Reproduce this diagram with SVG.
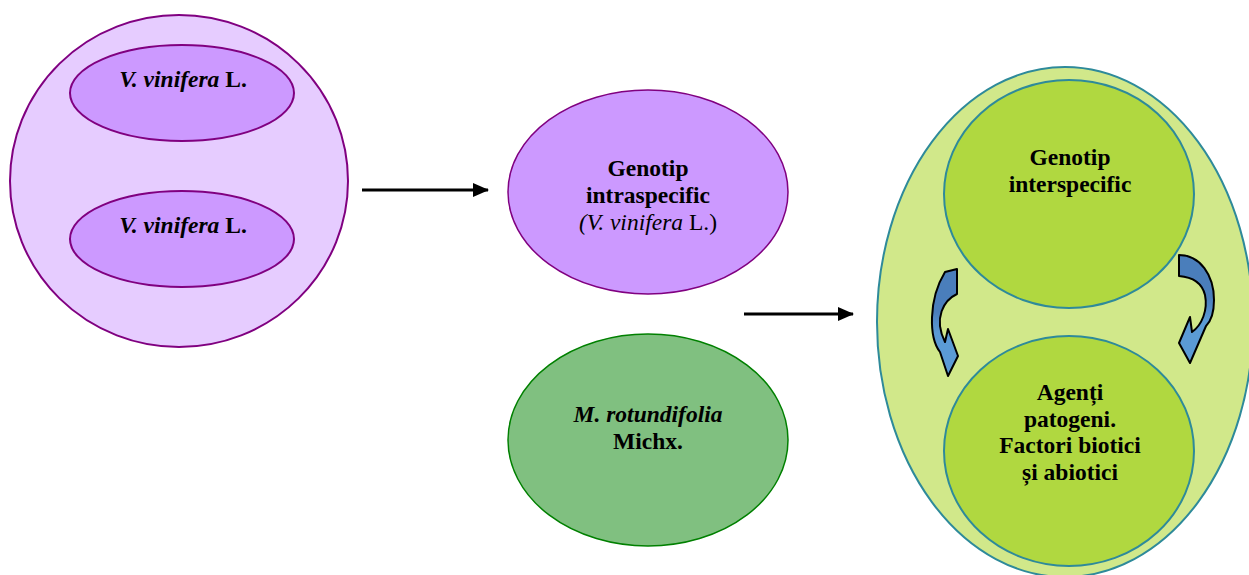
<svg xmlns="http://www.w3.org/2000/svg" width="1249" height="575" viewBox="0 0 1249 575">
<style>
.t{font-family:"Liberation Serif","Times New Roman",serif;font-size:23.5px;font-weight:bold;fill:#000;text-anchor:middle}
.it{font-style:italic}
.rg{font-weight:normal}
.pl{stroke:#800080;stroke-width:2}
.gr{stroke:#2E8A9A;stroke-width:2}
.ca{stroke:#000;stroke-width:2;stroke-linejoin:round}
.cn{stroke:#000;stroke-width:3;fill:none}
</style>
<defs>
<marker id="ah" markerWidth="16" markerHeight="16" refX="15" refY="8" orient="auto" markerUnits="userSpaceOnUse">
<path d="M0,1 L16,8 L0,15 Z" fill="#000"/>
</marker>
<linearGradient id="bl" x1="0" y1="0" x2="0" y2="1">
<stop offset="0.4" stop-color="#4A7EBB"/>
<stop offset="0.6" stop-color="#5B9BD5"/>
</linearGradient>
</defs>
<rect width="1249" height="575" fill="#fff"/>

<g id="parents">
<ellipse cx="179" cy="181" rx="169" ry="166" fill="#E6CCFF" class="pl"/>
</g>
<g id="vinifera1">
<ellipse cx="182" cy="93" rx="112" ry="48" fill="#CC99FF" class="pl"/>
<text class="t" x="183" y="87"><tspan class="it">V. vinifera</tspan> L.</text>
</g>
<g id="vinifera2">
<ellipse cx="182" cy="239" rx="112" ry="48" fill="#CC99FF" class="pl"/>
<text class="t" x="183" y="233"><tspan class="it">V. vinifera</tspan> L.</text>
</g>

<g id="intraspecific">
<ellipse cx="648" cy="192" rx="140" ry="102" fill="#CC99FF" stroke="#800080" stroke-width="1.5"/>
<text class="t" x="648" y="176">Genotip</text>
<text class="t" x="648" y="203">intraspecific</text>
<text class="t rg" x="648" y="230"><tspan class="it">(V. vinifera</tspan> L.)</text>
</g>

<g id="rotundifolia">
<ellipse cx="648" cy="440" rx="140" ry="106" fill="#80C080" stroke="#008000" stroke-width="1.5"/>
<text class="t" x="648" y="422"><tspan class="it">M. rotundifolia</tspan></text>
<text class="t" x="648" y="449">Michx.</text>
</g>

<g id="system">
<ellipse cx="1065" cy="322" rx="188" ry="255" fill="#D1E88A" class="gr"/>
</g>
<g id="interspecific">
<ellipse cx="1069" cy="194" rx="125" ry="114" fill="#B0D840" class="gr"/>
<text class="t" x="1070" y="165">Genotip</text>
<text class="t" x="1070" y="192">interspecific</text>
</g>
<g id="factors">
<ellipse cx="1069" cy="451" rx="125" ry="115" fill="#B0D840" class="gr"/>
<text class="t" x="1070" y="400">Agenți</text>
<text class="t" x="1070" y="427">patogeni.</text>
<text class="t" x="1070" y="453">Factori biotici</text>
<text class="t" x="1070" y="480">și abiotici</text>
</g>

<g id="connectors">
<line class="cn" x1="362" y1="190" x2="488" y2="190" marker-end="url(#ah)"/>
<line class="cn" x1="744" y1="314" x2="853" y2="314" marker-end="url(#ah)"/>
<path class="ca" fill="url(#bl)" d="M945,272 L957,269 L957,294 C944,300 933,318 945,342 L948,329 L958,356 L948,376 L940,352 C929,338 928,300 945,272 Z"/>
<path class="ca" fill="url(#bl)" d="M1179,255 C1200,255 1214,275 1214,300 C1214,315 1210,322 1206,326 L1190,363 L1179,343 L1190,317 L1192,332 C1202,325 1208,310 1205,295 C1202,283 1192,277 1179,276 Z"/>
</g>
</svg>
